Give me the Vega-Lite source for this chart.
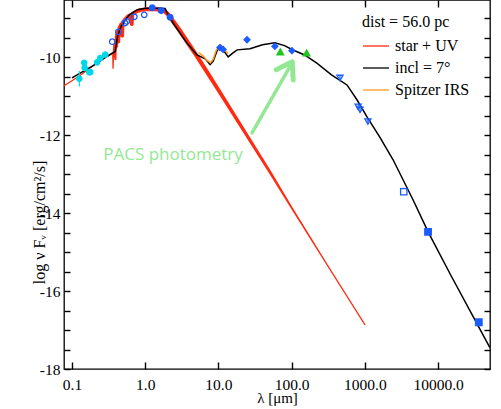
{
  "$schema": "https://vega.github.io/schema/vega-lite/v6.json",
  "width": 426,
  "height": 369,
  "autosize": {"type": "none"},
  "padding": {"left": 64, "top": 0, "right": 11, "bottom": 40},
  "config": {
    "view": {"stroke": "#000", "strokeWidth": 1.3},
    "axis": {"grid": false, "domain": false, "ticks": true, "labelFont": "Liberation Serif", "labelFontSize": 15.5, "labelColor": "#000", "titleFont": "Liberation Serif", "titleFontSize": 16, "titleFontWeight": "normal", "titleColor": "#000", "tickColor": "#000", "tickWidth": 1.4, "labelOverlap": false, "labelFlush": false, "labelBound": false}
  },
  "datasets": {
    "red": [
      {"lam": 0.078, "f": -10.73, "s": "star + UV"},
      {"lam": 0.1, "f": -10.6, "s": "star + UV"},
      {"lam": 0.13, "f": -10.46, "s": "star + UV"},
      {"lam": 0.17, "f": -10.3, "s": "star + UV"},
      {"lam": 0.2, "f": -10.2, "s": "star + UV"},
      {"lam": 0.25, "f": -10.07, "s": "star + UV"},
      {"lam": 0.3, "f": -9.98, "s": "star + UV"},
      {"lam": 0.34, "f": -9.92, "s": "star + UV"},
      {"lam": 0.36, "f": -9.88, "s": "star + UV"},
      {"lam": 0.364, "f": -10.28, "s": "star + UV"},
      {"lam": 0.368, "f": -9.88, "s": "star + UV"},
      {"lam": 0.375, "f": -9.68, "s": "star + UV"},
      {"lam": 0.38, "f": -9.98, "s": "star + UV"},
      {"lam": 0.386, "f": -9.55, "s": "star + UV"},
      {"lam": 0.392, "f": -10.05, "s": "star + UV"},
      {"lam": 0.398, "f": -9.48, "s": "star + UV"},
      {"lam": 0.405, "f": -9.4, "s": "star + UV"},
      {"lam": 0.41, "f": -9.72, "s": "star + UV"},
      {"lam": 0.416, "f": -9.36, "s": "star + UV"},
      {"lam": 0.43, "f": -9.3, "s": "star + UV"},
      {"lam": 0.434, "f": -9.6, "s": "star + UV"},
      {"lam": 0.44, "f": -9.25, "s": "star + UV"},
      {"lam": 0.47, "f": -9.15, "s": "star + UV"},
      {"lam": 0.486, "f": -9.45, "s": "star + UV"},
      {"lam": 0.495, "f": -9.1, "s": "star + UV"},
      {"lam": 0.53, "f": -9.03, "s": "star + UV"},
      {"lam": 0.58, "f": -8.95, "s": "star + UV"},
      {"lam": 0.62, "f": -8.92, "s": "star + UV"},
      {"lam": 0.656, "f": -9.15, "s": "star + UV"},
      {"lam": 0.67, "f": -8.88, "s": "star + UV"},
      {"lam": 0.75, "f": -8.83, "s": "star + UV"},
      {"lam": 0.85, "f": -8.79, "s": "star + UV"},
      {"lam": 1.0, "f": -8.77, "s": "star + UV"},
      {"lam": 1.2, "f": -8.76, "s": "star + UV"},
      {"lam": 1.5, "f": -8.77, "s": "star + UV"},
      {"lam": 1.8, "f": -8.8, "s": "star + UV"},
      {"lam": 2.0, "f": -8.88, "s": "star + UV"},
      {"lam": 2.2, "f": -8.97, "s": "star + UV"},
      {"lam": 2.5, "f": -9.12, "s": "star + UV"},
      {"lam": 3.0, "f": -9.33, "s": "star + UV"},
      {"lam": 3.5, "f": -9.52, "s": "star + UV"},
      {"lam": 4.0, "f": -9.68, "s": "star + UV"},
      {"lam": 5.0, "f": -9.95, "s": "star + UV"},
      {"lam": 7.0, "f": -10.38, "s": "star + UV"},
      {"lam": 10, "f": -10.84, "s": "star + UV"},
      {"lam": 20, "f": -11.74, "s": "star + UV"},
      {"lam": 50, "f": -12.93, "s": "star + UV"},
      {"lam": 100, "f": -13.86, "s": "star + UV"},
      {"lam": 300, "f": -15.3, "s": "star + UV"},
      {"lam": 1000, "f": -16.86, "s": "star + UV"}
    ],
    "black": [
      {"lam": 0.1, "f": -10.53, "s": "incl = 7°"},
      {"lam": 0.2, "f": -10.2, "s": "incl = 7°"},
      {"lam": 0.3, "f": -9.98, "s": "incl = 7°"},
      {"lam": 0.39, "f": -9.85, "s": "incl = 7°"},
      {"lam": 0.42, "f": -9.45, "s": "incl = 7°"},
      {"lam": 0.47, "f": -9.2, "s": "incl = 7°"},
      {"lam": 0.53, "f": -9.05, "s": "incl = 7°"},
      {"lam": 0.6, "f": -8.92, "s": "incl = 7°"},
      {"lam": 0.78, "f": -8.78, "s": "incl = 7°"},
      {"lam": 1.0, "f": -8.74, "s": "incl = 7°"},
      {"lam": 1.5, "f": -8.74, "s": "incl = 7°"},
      {"lam": 1.87, "f": -8.75, "s": "incl = 7°"},
      {"lam": 2.0, "f": -8.86, "s": "incl = 7°"},
      {"lam": 2.4, "f": -9.12, "s": "incl = 7°"},
      {"lam": 3.0, "f": -9.38, "s": "incl = 7°"},
      {"lam": 3.7, "f": -9.63, "s": "incl = 7°"},
      {"lam": 5.1, "f": -9.94, "s": "incl = 7°"},
      {"lam": 6.6, "f": -10.04, "s": "incl = 7°"},
      {"lam": 7.7, "f": -10.19, "s": "incl = 7°"},
      {"lam": 8.5, "f": -10.1, "s": "incl = 7°"},
      {"lam": 9.5, "f": -9.85, "s": "incl = 7°"},
      {"lam": 10.5, "f": -9.73, "s": "incl = 7°"},
      {"lam": 11.5, "f": -9.8, "s": "incl = 7°"},
      {"lam": 13.6, "f": -9.99, "s": "incl = 7°"},
      {"lam": 15.5, "f": -9.9, "s": "incl = 7°"},
      {"lam": 18, "f": -9.81, "s": "incl = 7°"},
      {"lam": 27, "f": -9.78, "s": "incl = 7°"},
      {"lam": 40, "f": -9.68, "s": "incl = 7°"},
      {"lam": 59, "f": -9.63, "s": "incl = 7°"},
      {"lam": 80, "f": -9.7, "s": "incl = 7°"},
      {"lam": 101, "f": -9.8, "s": "incl = 7°"},
      {"lam": 150, "f": -9.94, "s": "incl = 7°"},
      {"lam": 221, "f": -10.15, "s": "incl = 7°"},
      {"lam": 350, "f": -10.45, "s": "incl = 7°"},
      {"lam": 570, "f": -10.71, "s": "incl = 7°"},
      {"lam": 780, "f": -11.09, "s": "incl = 7°"},
      {"lam": 1070, "f": -11.53, "s": "incl = 7°"},
      {"lam": 1600, "f": -12.05, "s": "incl = 7°"},
      {"lam": 2430, "f": -12.63, "s": "incl = 7°"},
      {"lam": 4530, "f": -13.65, "s": "incl = 7°"},
      {"lam": 7400, "f": -14.5, "s": "incl = 7°"},
      {"lam": 15000, "f": -15.6, "s": "incl = 7°"},
      {"lam": 51000, "f": -17.45, "s": "incl = 7°"}
    ],
    "irs": [
      {"lam": 5.4, "f": -9.88, "s": "Spitzer IRS"},
      {"lam": 6.2, "f": -9.97, "s": "Spitzer IRS"},
      {"lam": 7.0, "f": -10.08, "s": "Spitzer IRS"},
      {"lam": 7.8, "f": -10.14, "s": "Spitzer IRS"},
      {"lam": 8.5, "f": -10.05, "s": "Spitzer IRS"},
      {"lam": 9.2, "f": -9.85, "s": "Spitzer IRS"},
      {"lam": 10.0, "f": -9.72, "s": "Spitzer IRS"},
      {"lam": 10.6, "f": -9.68, "s": "Spitzer IRS"},
      {"lam": 11.3, "f": -9.72, "s": "Spitzer IRS"},
      {"lam": 12.2, "f": -9.82, "s": "Spitzer IRS"},
      {"lam": 13.5, "f": -9.9, "s": "Spitzer IRS"}
    ],
    "shaft": [
      {"lam": 28.8, "f": -11.94},
      {"lam": 100, "f": -10.16}
    ],
    "head": [
      {"lam": 61.5, "f": -10.32},
      {"lam": 102, "f": -10.115},
      {"lam": 105, "f": -10.58}
    ],
    "label": [
      {"lam": 0.267, "f": -12.5, "t": "PACS photometry"}
    ],
    "pts": [
      {"lam": 0.126, "f": -10.55, "k": "uv", "lo": -10.75, "hi": -10.35},
      {"lam": 0.147, "f": -10.14, "k": "uv", "lo": -10.2, "hi": -10.08},
      {"lam": 0.149, "f": -10.27, "k": "uv", "lo": -10.33, "hi": -10.21},
      {"lam": 0.172, "f": -10.38, "k": "uv", "lo": -10.44, "hi": -10.32},
      {"lam": 0.178, "f": -10.38, "k": "uv", "lo": -10.44, "hi": -10.32},
      {"lam": 0.22, "f": -10.13, "k": "uv", "lo": -10.19, "hi": -10.07},
      {"lam": 0.243, "f": -10.02, "k": "uv", "lo": -10.07, "hi": -9.97},
      {"lam": 0.285, "f": -9.93, "k": "uv", "lo": -9.98, "hi": -9.88},
      {"lam": 0.355, "f": -9.6, "k": "opt"},
      {"lam": 0.43, "f": -9.35, "k": "opt"},
      {"lam": 0.53, "f": -9.12, "k": "opt"},
      {"lam": 0.56, "f": -9.08, "k": "opt"},
      {"lam": 0.71, "f": -8.96, "k": "opt"},
      {"lam": 0.97, "f": -8.91, "k": "opt"},
      {"lam": 1.25, "f": -8.73, "k": "nir"},
      {"lam": 1.65, "f": -8.8, "k": "nir"},
      {"lam": 2.19, "f": -8.97, "k": "nir"},
      {"lam": 10.5, "f": -9.75, "k": "ir", "lo": -9.82, "hi": -9.68},
      {"lam": 11.6, "f": -9.8, "k": "ir", "lo": -9.87, "hi": -9.73},
      {"lam": 24.6, "f": -9.55, "k": "ir", "lo": -9.61, "hi": -9.49},
      {"lam": 59, "f": -9.72, "k": "ir", "lo": -9.79, "hi": -9.65},
      {"lam": 101, "f": -9.83, "k": "ir", "lo": -9.9, "hi": -9.76},
      {"lam": 70, "f": -9.86, "k": "pacs", "lo": -9.92, "hi": -9.8},
      {"lam": 160, "f": -9.89, "k": "pacs", "lo": -9.96, "hi": -9.82},
      {"lam": 457, "f": -10.53, "k": "smm", "lo": -10.6, "hi": -10.46},
      {"lam": 810, "f": -11.27, "k": "smm", "lo": -11.34, "hi": -11.2},
      {"lam": 860, "f": -11.35, "k": "smm", "lo": -11.42, "hi": -11.28},
      {"lam": 1100, "f": -11.65, "k": "smm", "lo": -11.72, "hi": -11.58},
      {"lam": 3400, "f": -13.45, "k": "sqo"},
      {"lam": 7300, "f": -14.48, "k": "sq"},
      {"lam": 36000, "f": -16.8, "k": "sq"}
    ]
  },
  "resolve": {"axis": {"x": "independent", "y": "independent"}},
  "layer": [
    {
      "data": {"name": "red"},
      "mark": {"type": "trail", "clip": true},
      "encoding": {
        "x": {"field": "lam", "type": "quantitative", "scale": {"type": "log", "domain": [0.0778, 51200], "nice": false},
          "axis": {"orient": "top", "values": [0.1, 1, 10, 100, 1000, 10000], "labels": false, "ticks": true, "tickColor": "#000", "tickSize": 7, "offset": -7, "title": null}},
        "y": {"field": "f", "type": "quantitative", "scale": {"domain": [-18, -8.53], "nice": false, "zero": false},
          "axis": {"orient": "right", "values": [-18, -17.5, -17, -16.5, -16, -15.5, -15, -14.5, -14, -13.5, -13, -12.5, -12, -11.5, -11, -10.5, -10, -9.5, -9], "labels": false, "ticks": true, "tickColor": "#000", "tickSize": 6, "offset": -6, "title": null}},
        "color": {"field": "s", "type": "nominal",
          "scale": {"domain": ["star + UV", "incl = 7°", "Spitzer IRS"], "range": ["#ff2a10", "#000000", "#ff9c1f"]},
          "legend": {"orient": "none", "legendX": 298, "legendY": 14, "title": "dist = 56.0 pc", "titleFont": "Liberation Serif", "titleFontSize": 16, "titleFontWeight": "normal", "titleColor": "#000", "titlePadding": 2, "labelFont": "Liberation Serif", "labelFontSize": 16, "labelColor": "#000", "symbolType": "stroke", "symbolSize": 676, "symbolStrokeWidth": 1.3, "rowPadding": -13, "labelOffset": 5}},
        "size": {"field": "lam", "type": "quantitative", "scale": {"type": "log", "domain": [0.078, 0.36, 0.45, 3, 40, 150, 1000], "range": [1.2, 1.2, 3.5, 4.5, 3, 1.3, 1.2]}, "legend": null}
      }
    },
    {
      "data": {"name": "black"},
      "mark": {"type": "line", "strokeWidth": 1.5, "clip": true},
      "encoding": {
        "x": {"field": "lam", "type": "quantitative", "scale": {"type": "log", "domain": [0.0778, 51200], "nice": false},
          "axis": {"orient": "bottom", "values": [0.1, 1, 10, 100, 1000, 10000], "format": ".1f", "ticks": true, "tickColor": "#000", "tickSize": 7, "offset": -7, "labelPadding": 8, "title": "λ [μm]", "titlePadding": -2, "titleFontSize": 15}},
        "y": {"field": "f", "type": "quantitative", "scale": {"domain": [-18, -8.53], "nice": false, "zero": false},
          "axis": {"orient": "left", "values": [-18, -17.5, -17, -16.5, -16, -15.5, -15, -14.5, -14, -13.5, -13, -12.5, -12, -11.5, -11, -10.5, -10, -9.5, -9], "labelExpr": "datum.value % 2 == 0 ? '' + datum.value : ''", "ticks": true, "tickColor": "#000", "tickSize": 6, "offset": -6, "labelPadding": 4, "title": "log ν Fᵥ [erg/cm²/s]", "titleX": -26, "titleY": 222, "titleBaseline": "alphabetic", "titleAngle": 270}},
        "color": {"field": "s", "type": "nominal"}
      }
    },
    {
      "data": {"name": "irs"},
      "mark": {"type": "line", "strokeWidth": 1.5, "clip": true},
      "encoding": {
        "x": {"field": "lam", "type": "quantitative", "axis": null},
        "y": {"field": "f", "type": "quantitative", "axis": null},
        "color": {"field": "s", "type": "nominal"}
      }
    },
    {
      "data": {"name": "shaft"},
      "mark": {"type": "line", "strokeWidth": 3.5, "color": "#93e993", "strokeCap": "round"},
      "encoding": {
        "x": {"field": "lam", "type": "quantitative", "axis": null},
        "y": {"field": "f", "type": "quantitative", "axis": null}
      }
    },
    {
      "data": {"name": "head"},
      "mark": {"type": "line", "strokeWidth": 5, "color": "#93e993", "strokeCap": "round", "strokeJoin": "round"},
      "encoding": {
        "x": {"field": "lam", "type": "quantitative", "axis": null},
        "y": {"field": "f", "type": "quantitative", "axis": null}
      }
    },
    {
      "data": {"name": "label"},
      "mark": {"type": "text", "align": "left", "baseline": "middle", "font": "Open Sans", "fontSize": 17, "color": "#93e993"},
      "encoding": {
        "x": {"field": "lam", "type": "quantitative", "axis": null},
        "y": {"field": "f", "type": "quantitative", "axis": null},
        "text": {"field": "t"}
      }
    },
    {
      "data": {"name": "pts"},
      "transform": [{"filter": "isValid(datum.lo)"}],
      "mark": {"type": "rule", "strokeWidth": 1.2},
      "encoding": {
        "x": {"field": "lam", "type": "quantitative", "axis": null},
        "y": {"field": "lo", "type": "quantitative", "axis": null},
        "y2": {"field": "hi"},
        "stroke": {"field": "k", "type": "nominal", "legend": null,
          "scale": {"domain": ["uv", "opt", "nir", "ir", "smm", "sqo", "sq", "pacs"], "range": ["#00d8ea", "#1a5cff", "#1a5cff", "#1a5cff", "#1a5cff", "#1a5cff", "#1a5cff", "#22c422"]}}
      }
    },
    {
      "data": {"name": "pts"},
      "mark": {"type": "point", "strokeWidth": 1.3, "opacity": 1},
      "encoding": {
        "x": {"field": "lam", "type": "quantitative", "axis": null},
        "y": {"field": "f", "type": "quantitative", "axis": null},
        "shape": {"field": "k", "type": "nominal", "legend": null,
          "scale": {"domain": ["uv", "opt", "nir", "ir", "smm", "sqo", "sq", "pacs"], "range": ["circle", "circle", "circle", "diamond", "triangle-down", "square", "square", "triangle-up"]}},
        "stroke": {"field": "k", "type": "nominal", "legend": null},
        "fill": {"field": "k", "type": "nominal", "legend": null,
          "scale": {"domain": ["uv", "opt", "nir", "ir", "smm", "sqo", "sq", "pacs"], "range": ["#00d8ea", "transparent", "#1a5cff", "#1a5cff", "transparent", "transparent", "#1a5cff", "#22c422"]}},
        "size": {"field": "k", "type": "nominal", "legend": null,
          "scale": {"domain": ["uv", "opt", "nir", "ir", "smm", "sqo", "sq", "pacs"], "range": [28, 45, 40, 35, 45, 45, 55, 40]}}
      }
    }
  ]
}
